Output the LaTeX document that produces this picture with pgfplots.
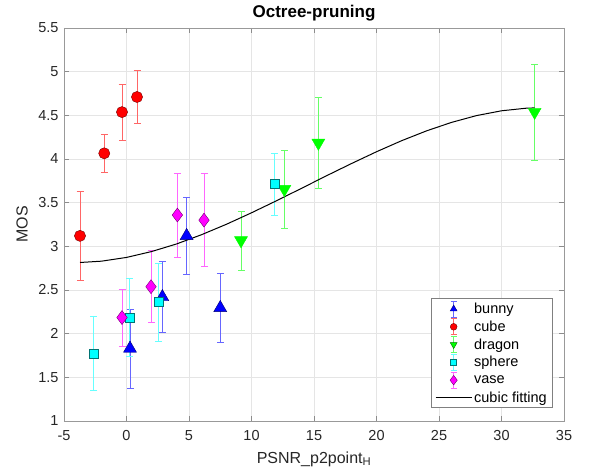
\documentclass[border=0pt]{standalone}
\usepackage{pgfplots}
\pgfplotsset{compat=1.18}
\usepackage{pgfplotstable}
\usepackage{fontspec}
\setmainfont{Liberation Sans}

\definecolor{mblue}{RGB}{0,0,255}
\definecolor{mred}{RGB}{255,0,0}
\definecolor{mgreen}{RGB}{0,255,0}
\definecolor{mcyan}{RGB}{0,255,255}
\definecolor{mmag}{RGB}{255,0,255}

\pgfplotstableread{
x y e
4.81 3.12 0.44
2.87 2.42 0.41
0.28 1.83 0.45
7.50 2.295 0.395
}\bunny
\pgfplotstableread{
x y e
-3.72 3.12 0.51
-1.78 4.065 0.22
-0.36 4.537 0.32
0.84 4.71 0.30
}\cube
\pgfplotstableread{
x y e
9.16 3.068 0.338
12.63 3.655 0.445
15.35 4.185 0.525
32.65 4.538 0.548
}\dragon
\pgfplotstableread{
x y e
-2.63 1.774 0.424
0.23 2.186 0.45
2.57 2.362 0.448
11.83 3.713 0.353
}\sphere
\pgfplotstableread{
x y e
4.07 3.358 0.478
6.20 3.30 0.533
1.96 2.538 0.413
-0.36 2.185 0.325
}\vase
\pgfplotstableread{
x y
-3.72 2.815
-2 2.830
0 2.873
2 2.940
4 3.027
6 3.133
8 3.253
10 3.384
12 3.522
14 3.664
16 3.808
18 3.948
20 4.083
22 4.209
24 4.322
26 4.419
28 4.497
30 4.552
32 4.582
32.65 4.585
}\fit

\pgfplotsset{
  errleg/.style n args={4}{legend image code/.code={
    \draw[color=#1!60, line width=0.6pt] (18pt,-8pt) -- (18pt,8pt) (15pt,-8pt) -- (21pt,-8pt) (15pt,8pt) -- (21pt,8pt);
    \draw[mark=#2, mark size=#3, mark options={fill=#1, draw=black!55!#1, line width=0.4pt, #4}] plot coordinates {(18pt,0pt)};}},
  mystyle/.style={only marks, color=#1, mark options={fill=#1, draw=black!55!#1, line width=0.4pt},
    error bars/y dir=both, error bars/y explicit,
    error bars/error bar style={color=#1!60, line width=0.6pt},
    error bars/error mark options={rotate=90, mark size=3.5pt, color=#1!60, line width=0.6pt}},
  fitleg/.style={legend image code/.code={\draw[black, line width=1pt] (0pt,0pt) -- (36pt,0pt);}},
}

\begin{document}
\begin{tikzpicture}
\begin{axis}[
  scale only axis, width=500pt, height=393pt,
  xmin=-5, xmax=35, ymin=1, ymax=5.5,
  xtick={-5,0,...,35}, ytick={1,1.5,...,5.5},
  grid=major, major grid style={color=black!10, line width=0.5pt},
  axis line style={color=black!40, line width=0.7pt},
  tick style={color=black!45, line width=0.6pt},
  tick align=inside, major tick length=5pt,
  /pgf/number format/assume math mode=true,
  ticklabel style={font=\fontsize{14.5}{17}\selectfont, text=black!85},
  xticklabel style={yshift=-6pt},
  yticklabel style={xshift=-2pt},
  title={\textbf{Octree-pruning}},
  title style={font=\fontsize{17}{20}\selectfont, at={(axis description cs:0.5,1)}, anchor=base, yshift=4pt},
  xlabel={PSNR\_p2point\textsubscript{H}},
  ylabel={MOS},
  xlabel style={font=\fontsize{16}{19}\selectfont, text=black!85, at={(axis description cs:0.5,-0.1069)}, anchor=base},
  ylabel style={font=\fontsize{16}{19}\selectfont, text=black!85, at={(axis description cs:-0.084,0.5)}, anchor=center},
  legend style={at={(1,0)}, anchor=south east, xshift=-11pt, yshift=13pt, draw=black!50, line width=0.6pt,
    font=\fontsize{14.5}{16.5}\selectfont, row sep=1.2pt, inner xsep=4pt, inner ysep=2pt},
  legend cell align=left,
]
\addplot[mystyle=mblue, mark=triangle*, mark size=7.5pt, errleg={mblue}{triangle*}{4pt}{}] table[x=x,y=y,y error=e] {\bunny};
\addlegendentry{bunny}
\addplot[mystyle=mred, mark=*, mark size=5.6pt, errleg={mred}{*}{3.4pt}{}] table[x=x,y=y,y error=e] {\cube};
\addlegendentry{cube}
\addplot[mystyle=mgreen, mark=triangle*, mark size=7.5pt, mark options={rotate=180}, errleg={mgreen}{triangle*}{4pt}{rotate=180}] table[x=x,y=y,y error=e] {\dragon};
\addlegendentry{dragon}
\addplot[mystyle=mcyan, mark=square*, mark size=4.6pt, errleg={mcyan}{square*}{3pt}{}] table[x=x,y=y,y error=e] {\sphere};
\addlegendentry{sphere}
\addplot[mystyle=mmag, mark=diamond*, mark size=7pt, errleg={mmag}{diamond*}{4.8pt}{}] table[x=x,y=y,y error=e] {\vase};
\addlegendentry{vase}
\addplot[black, line width=1pt, no marks, fitleg] table[x=x,y=y] {\fit};
\addlegendentry{cubic fitting}
\end{axis}
\pgfresetboundingbox
\useasboundingbox ([shift={(-64pt,-52pt)}]current axis.south west) rectangle ([shift={(29pt,28pt)}]current axis.north east);
\end{tikzpicture}
\end{document}
